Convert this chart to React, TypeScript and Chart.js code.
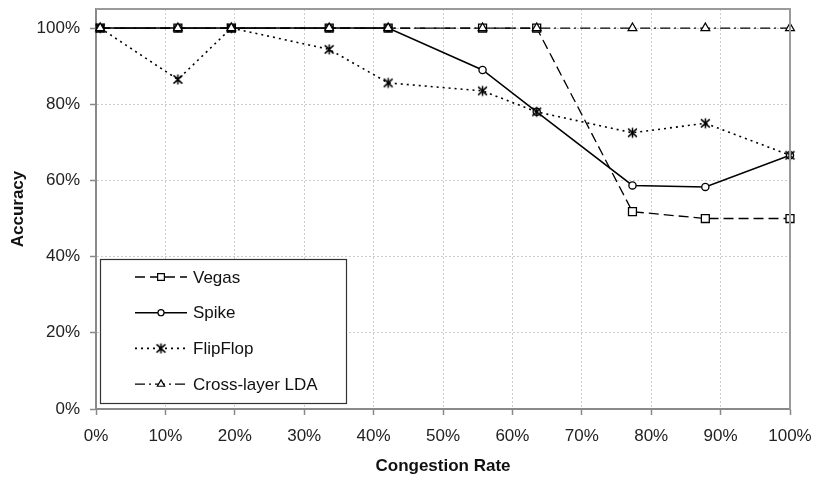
import React, { useEffect, useRef } from 'react';
import { Chart, registerables } from 'chart.js';
import { drawPoint } from 'chart.js/helpers';

Chart.register(...registerables);

// ---- data ----
const congestionRate = [0.6, 11.8, 19.5, 33.6, 42.1, 55.7, 63.5, 77.3, 87.8, 100];
const vegas = [100, 100, 100, 100, 100, 100, 100, 51.8, 50.0, 50.0];
const spike = [100, 100, 100, 100, 100, 89.0, 78.0, 58.7, 58.3, 66.6];
const flipFlop = [100, 86.5, 100, 94.4, 85.6, 83.5, 78.0, 72.5, 75.0, 66.6];
const crossLayerLDA = [100, 100, 100, 100, 100, 100, 100, 100, 100, 100];
const seriesNames = ['Vegas', 'Spike', 'FlipFlop', 'Cross-layer LDA'];
const xTickValues = [0, 10, 20, 30, 40, 50, 60, 70, 80, 90, 100];
const yTickValues = [0, 20, 40, 60, 80, 100];
const xTitle = 'Congestion Rate';
const yTitle = 'Accuracy';

const FONT = "'Liberation Sans', Arial, sans-serif";

function makeAsterisk(size: number): HTMLCanvasElement {
  const c = document.createElement('canvas');
  c.width = size;
  c.height = size;
  const g = c.getContext('2d')!;
  const m = size / 2;
  const r = size / 2 - 1;
  g.strokeStyle = '#000';
  g.lineWidth = 1.5;
  g.beginPath();
  g.moveTo(m - r * 0.8, m - r * 0.75);
  g.lineTo(m + r * 0.8, m + r * 0.75);
  g.moveTo(m + r * 0.8, m - r * 0.75);
  g.lineTo(m - r * 0.8, m + r * 0.75);
  g.moveTo(m, m - r * 0.9);
  g.lineTo(m, m + r * 0.9);
  g.stroke();
  return c;
}

const framePlugin = {
  id: 'frame',
  afterDraw(chart: any) {
    const { ctx, chartArea } = chart;
    ctx.save();
    ctx.strokeStyle = '#9a9a9a';
    ctx.lineWidth = 2;
    ctx.beginPath();
    ctx.moveTo(chartArea.left, chartArea.top);
    ctx.lineTo(chartArea.right, chartArea.top);
    ctx.lineTo(chartArea.right, chartArea.bottom);
    ctx.stroke();
    ctx.restore();
  },
};

const boxLegendPlugin = {
  id: 'boxLegend',
  afterDraw(chart: any) {
    const { ctx, chartArea } = chart;
    const left = chartArea.left + 4;
    const w = 246;
    const h = 144;
    const top = chartArea.bottom - 6 - h;
    ctx.save();
    ctx.fillStyle = '#fff';
    ctx.fillRect(left, top, w, h);
    ctx.strokeStyle = '#333';
    ctx.lineWidth = 1.2;
    ctx.strokeRect(left + 0.5, top + 0.5, w, h);
    const rowGap = 35.7;
    chart.data.datasets.forEach((ds: any, i: number) => {
      const y = top + 18 + i * rowGap;
      ctx.save();
      ctx.strokeStyle = '#000';
      ctx.lineWidth = ds.borderWidth;
      ctx.setLineDash(ds.borderDash || []);
      ctx.beginPath();
      ctx.moveTo(left + 35, y);
      ctx.lineTo(left + 87, y);
      ctx.stroke();
      ctx.setLineDash([]);
      ctx.fillStyle = '#fff';
      ctx.strokeStyle = '#000';
      ctx.lineWidth = 1.2;
      drawPoint(ctx, {
        pointStyle: ds.pointStyle,
        radius: ds.pointRadius * 0.85,
        rotation: 0,
        borderWidth: 1.2,
      }, left + 61, y);
      ctx.restore();
      ctx.fillStyle = '#111';
      ctx.font = `17px ${FONT}`;
      ctx.textBaseline = 'middle';
      ctx.textAlign = 'left';
      ctx.fillText(ds.label, left + 93, y + 1);
    });
    ctx.restore();
  },
};

export default function App() {
  const ref = useRef<HTMLCanvasElement>(null);
  useEffect(() => {
    const asterisk = makeAsterisk(13);
    const pts = (arr: number[]) => arr.map((v, i) => ({ x: congestionRate[i], y: v }));
    const common = {
      borderColor: '#000',
      pointBorderColor: '#000',
      pointBackgroundColor: '#fff',
      pointBorderWidth: 1.3,
      fill: false,
      tension: 0,
      clip: false,
    };
    const chart = new Chart(ref.current!, {
      type: 'line',
      data: {
        datasets: [
          { ...common, label: seriesNames[0], data: pts(vegas), borderWidth: 1.3, borderDash: [10, 5], pointStyle: 'rect', pointRadius: 5.6, order: 4 },
          { ...common, label: seriesNames[1], data: pts(spike), borderWidth: 1.5, borderDash: [], pointStyle: 'circle', pointRadius: 3.6, order: 3 },
          { ...common, label: seriesNames[2], data: pts(flipFlop), borderWidth: 1.6, borderDash: [2, 4], pointStyle: asterisk, pointRadius: 5, order: 2 },
          { ...common, label: seriesNames[3], data: pts(crossLayerLDA), borderWidth: 1.3, borderDash: [10, 4, 2, 4], pointStyle: 'triangle', pointRadius: 5, order: 1 },
        ] as any,
      },
      options: {
        animation: false,
        responsive: false,
        layout: { padding: { top: 0, right: 24, left: 0, bottom: 0 } },
        plugins: { legend: { display: false }, tooltip: { enabled: false } },
        scales: {
          x: {
            type: 'linear',
            min: 0,
            max: 100,
            afterBuildTicks: (s: any) => { s.ticks = xTickValues.map((v) => ({ value: v })); },
            afterFit: (s: any) => { s.height = 72; s.paddingRight = 24; s.paddingLeft = 0; },
            ticks: {
              callback: (v: any) => v + '%',
              color: '#222',
              font: { family: FONT, size: 17 },
              padding: 11,
              maxRotation: 0,
            },
            grid: { color: '#cccccc', lineWidth: 1, tickColor: '#888', tickLength: 6, tickWidth: 1.5, tickBorderDash: [] },
            border: { color: '#8a8a8a', width: 2, dash: [2, 2] },
            title: { display: true, text: xTitle, color: '#111', font: { family: FONT, size: 17, weight: 'bold' }, padding: { top: 4, bottom: 4 } },
          },
          y: {
            type: 'linear',
            min: 0,
            max: 105,
            afterBuildTicks: (s: any) => { s.ticks = yTickValues.map((v) => ({ value: v })); },
            afterFit: (s: any) => { s.width = 96; s.paddingTop = 9; },
            ticks: {
              callback: (v: any) => v + '%',
              color: '#222',
              font: { family: FONT, size: 17 },
              padding: 10,
            },
            grid: { color: '#cccccc', lineWidth: 1, tickColor: '#888', tickLength: 6, tickWidth: 1.5, tickBorderDash: [] },
            border: { color: '#8a8a8a', width: 2, dash: [2, 2] },
            title: { display: true, text: yTitle, color: '#111', font: { family: FONT, size: 17, weight: 'bold' }, padding: { top: 8, bottom: 4 } },
          },
        },
      } as any,
      plugins: [framePlugin, boxLegendPlugin],
    });
    return () => chart.destroy();
  }, []);
  return (
    <div style={{ position: 'absolute', left: 0, top: 0, width: 814, height: 481, background: '#fff' }}>
      <canvas ref={ref} width={814} height={481} style={{ display: 'block' }} />
    </div>
  );
}
